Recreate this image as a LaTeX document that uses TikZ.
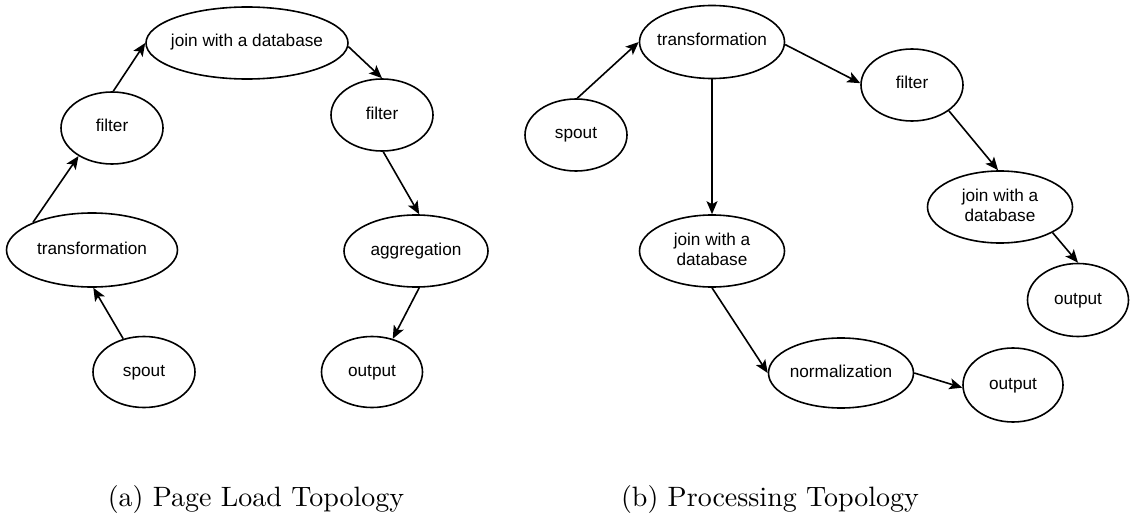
\documentclass[tikz,border=0pt]{standalone}
\usepackage{fontspec}
\newfontfamily\nodefont{Liberation Sans}
\newfontfamily\capfont{lmroman10-regular.otf}
\usetikzlibrary{shapes.geometric,arrows.meta}
% label set in a zero-width box so the ellipse keeps its given size
\newcommand\lbl[1]{\makebox[0pt]{\begin{tabular}{@{}c@{}}#1\end{tabular}}}
\begin{document}
\begin{tikzpicture}[x=1pt,y=-1pt,
  op/.style={ellipse, draw, line width=1.6pt, inner sep=0pt,
    font=\nodefont\fontsize{17.2}{20}\selectfont},
  flow/.style={line width=1.6pt, -{Stealth[length=13pt,width=11pt,inset=3pt]}},
  caption/.style={font=\capfont\fontsize{28}{32}\selectfont, anchor=base}]
\path[use as bounding box] (0,0) rectangle (1133,519);

% (a) page load topology
\node[op, minimum width=202pt, minimum height=72pt] (ljoin)   at (247,43)  {\lbl{join with a database}};
\node[op, minimum width=102pt, minimum height=72pt] (lfilter) at (112,128) {\lbl{filter}};
\node[op, minimum width=171pt, minimum height=74pt] (ltrans)  at (92,250)  {\lbl{transformation}};
\node[op, minimum width=102pt, minimum height=71pt] (lspout)  at (144,372) {\lbl{spout}};
\node[op, minimum width=102pt, minimum height=72pt] (rfilter) at (382,115) {\lbl{filter}};
\node[op, minimum width=144pt, minimum height=72pt] (lagg)    at (416,251) {\lbl{aggregation}};
\node[op, minimum width=101pt, minimum height=71pt] (lout)    at (372,372) {\lbl{output}};

\draw[flow] (lspout.122)  -- (ltrans.272);
\draw[flow] (ltrans.155)  -- (lfilter.220);
\draw[flow] (lfilter.88)  -- (ljoin.180);
\draw[flow] (ljoin.-2)    -- (rfilter.90);
\draw[flow] (rfilter.272) -- (lagg.85);
\draw[flow] (lagg.275)    -- (lout.58);

% (b) processing topology
\node[op, minimum width=145pt, minimum height=73pt] (btrans) at (712,42)   {\lbl{transformation}};
\node[op, minimum width=102pt, minimum height=72pt] (bspout) at (576,135)  {\lbl{spout}};
\node[op, minimum width=102pt, minimum height=72pt] (bfilter) at (912,85)  {\lbl{filter}};
\node[op, minimum width=145pt, minimum height=72pt] (bjoinb) at (1000,207) {\lbl{join with a\\database}};
\node[op, minimum width=101pt, minimum height=73pt] (boutb)  at (1078,300) {\lbl{output}};
\node[op, minimum width=145pt, minimum height=72pt] (bjoina) at (712,251)  {\lbl{join with a\\database}};
\node[op, minimum width=145pt, minimum height=70pt] (bnorm)  at (841,373)  {\lbl{normalization}};
\node[op, minimum width=100pt, minimum height=74pt] (bouta)  at (1013,385) {\lbl{output}};

\draw[flow] (bspout.88)   -- (btrans.180);
\draw[flow] (btrans.-2)   -- (bfilter.178);
\draw[flow] (btrans.south) -- (bjoina.north);
\draw[flow] (bfilter.325) -- (bjoinb.93);
\draw[flow] (bjoinb.334)  -- (boutb.90);
\draw[flow] (bjoina.270)  -- (bnorm.180);
\draw[flow] (bnorm.0)     -- (bouta.183);

% sub-captions
\node[caption] (capa) at (256,506) {(a) Page Load Topology};
\node[caption] (capb) at (770,506) {(b) Processing Topology};
\end{tikzpicture}
\end{document}
